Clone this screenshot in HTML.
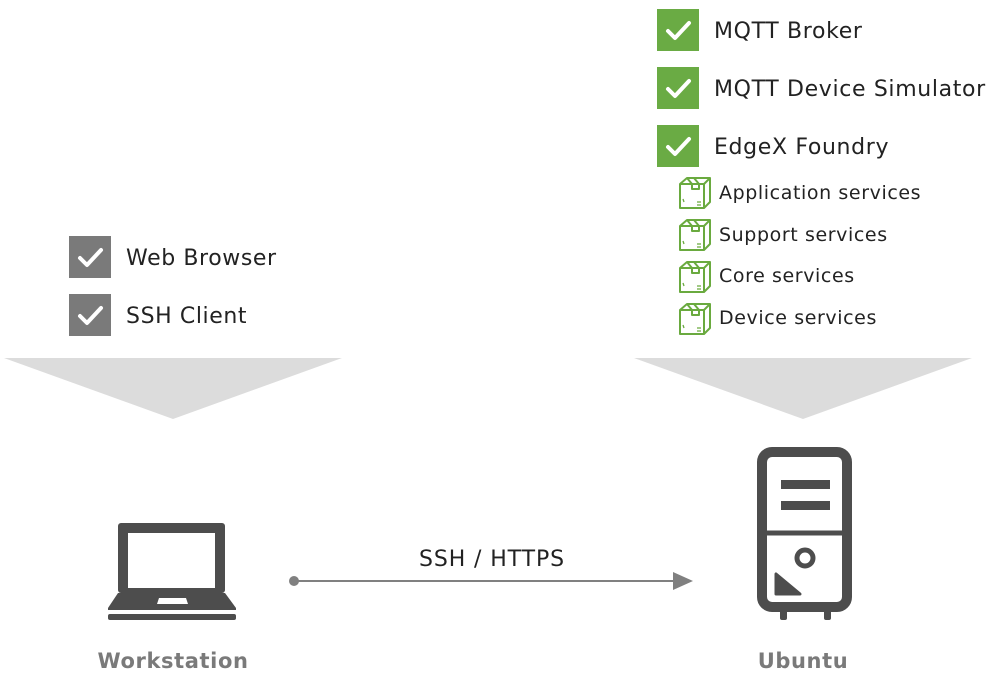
<!DOCTYPE html>
<html><head><meta charset="utf-8"><style>
html,body{margin:0;padding:0;background:#fff;}
svg{display:block;}
text{font-family:"DejaVu Sans","Liberation Sans",sans-serif;}
</style></head><body>
<svg width="997" height="682" viewBox="0 0 997 682" xmlns="http://www.w3.org/2000/svg">
<defs>
<g id="chk"><polyline points="-10,1 -3,8 11,-7" fill="none" stroke="#fff" stroke-width="4" stroke-linecap="round" stroke-linejoin="round"/></g>
<g id="box" fill="none" stroke="#6aaa3f" stroke-width="2" stroke-linejoin="round">
<path d="M1,7 L8,1 L31,1 L31,25 L25,31 L1,31 Z"/>
<path d="M1,7 L25,7 L31,1 M25,7 L25,31"/>
<path d="M8,1 L13,7 M15,1 L20,7 M13,7 L13,12 L20,12 L20,7"/>
<path d="M4,22 L5,25 M18,25 L22,25 M18,28 L22,28" stroke-width="1.3"/>
</g>
</defs>
<rect x="657" y="9" width="42" height="42" fill="#6aab44"/><use href="#chk" x="678" y="30"/>
<rect x="657" y="67" width="42" height="42" fill="#6aab44"/><use href="#chk" x="678" y="88"/>
<rect x="657" y="125" width="42" height="42" fill="#6aab44"/><use href="#chk" x="678" y="146"/>
<g font-size="22" fill="#222" letter-spacing="0.65">
<text x="714" y="38">MQTT Broker</text>
<text x="714" y="96">MQTT Device Simulator</text>
<text x="714" y="154">EdgeX Foundry</text>
</g>
<use href="#box" x="679" y="177"/><use href="#box" x="679" y="219"/><use href="#box" x="679" y="261"/><use href="#box" x="679" y="303"/>
<g font-size="19" fill="#222" letter-spacing="0.6">
<text x="719" y="199">Application services</text>
<text x="719" y="241">Support services</text>
<text x="719" y="282">Core services</text>
<text x="719" y="324">Device services</text>
</g>
<rect x="69" y="236" width="42" height="42" fill="#7a7a7a"/><use href="#chk" x="90" y="257"/>
<rect x="69" y="294" width="42" height="42" fill="#7a7a7a"/><use href="#chk" x="90" y="315"/>
<g font-size="22" fill="#222" letter-spacing="0.6">
<text x="126" y="265">Web Browser</text>
<text x="126" y="323">SSH Client</text>
</g>
<polygon points="4,358 342,358 173,419" fill="#dcdcdc"/>
<polygon points="634,358 972,358 803,419" fill="#dcdcdc"/>
<rect x="118" y="523" width="107" height="70" rx="3" fill="#4d4d4d"/>
<rect x="128" y="533" width="87" height="55" fill="#fff"/>
<polygon points="118,593 225,593 236,608 236,610 108,610 108,608" fill="#4d4d4d"/>
<polygon points="159,598 186,598 188,604 157,604" fill="#fff"/>
<rect x="108" y="614" width="128" height="6" rx="2" fill="#4d4d4d"/>
<rect x="762" y="452" width="85" height="155" rx="10" fill="none" stroke="#4d4d4d" stroke-width="10"/>
<line x1="762" y1="533" x2="847" y2="533" stroke="#4d4d4d" stroke-width="5"/>
<rect x="781" y="480" width="49" height="9" fill="#4d4d4d"/>
<rect x="781" y="501" width="49" height="9" fill="#4d4d4d"/>
<circle cx="805" cy="558" r="8" fill="none" stroke="#4d4d4d" stroke-width="5"/>
<polygon points="776,574 776,594 800,594" fill="#4d4d4d" stroke="#4d4d4d" stroke-width="3" stroke-linejoin="round"/>
<rect x="780" y="610" width="7" height="10" rx="2" fill="#4d4d4d"/>
<rect x="824" y="610" width="7" height="10" rx="2" fill="#4d4d4d"/>
<circle cx="294" cy="581" r="5" fill="#808080"/>
<line x1="294" y1="581" x2="676" y2="581" stroke="#808080" stroke-width="2"/>
<polygon points="673,572 693,581 673,590" fill="#808080"/>
<text x="492" y="566" font-size="22" fill="#222" text-anchor="middle" letter-spacing="0.9">SSH / HTTPS</text>
<text x="173" y="668" font-size="21" font-weight="bold" fill="#7a7a7a" text-anchor="middle" letter-spacing="0.6">Workstation</text>
<text x="803" y="668" font-size="21" font-weight="bold" fill="#7a7a7a" text-anchor="middle" letter-spacing="0.6">Ubuntu</text>
</svg>
</body></html>
